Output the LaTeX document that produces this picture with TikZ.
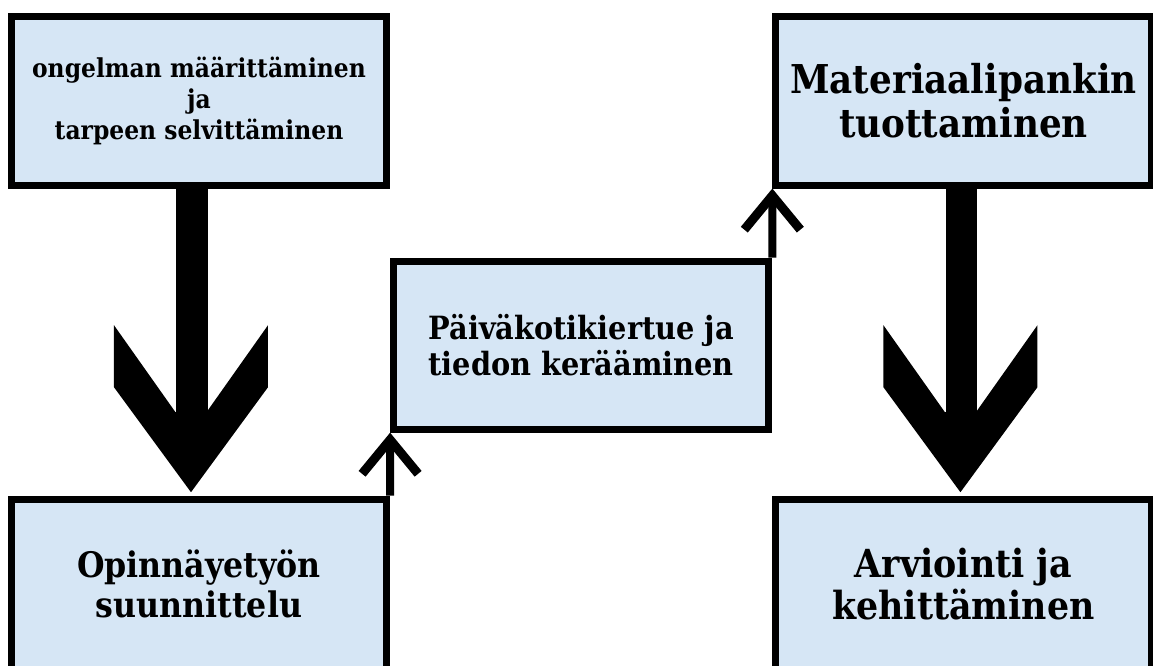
\documentclass[tikz,border=0pt]{standalone}
\usepackage{fontspec}
\setmainfont{DejaVu Serif}[FakeStretch=0.9]
\usetikzlibrary{positioning,arrows.meta}
\definecolor{boxblue}{RGB}{214,230,245}
% chevron head of the big arrows, tip at #1
\newcommand{\bighead}[1]{\fill (#1) -- ++(-77,-105) -- ++(0,-62) -- ++(61.5,87) -- ++(31,0) -- ++(61.5,-87) -- ++(0,62) -- cycle;}

\begin{document}
\begin{tikzpicture}[x=0.01cm, y=-0.01cm, node distance=4.83cm, on grid,
  phase/.style={draw, line width=0.7mm, fill=boxblue, minimum width=3.75cm, minimum height=1.68cm, align=center, inner sep=0pt},
  bigstem/.style={line width=3.1mm, shorten >=3mm},
  thinlink/.style={line width=0.8mm, -{Straight Barb[length=3.4mm,width=5.6mm,line width=0.9mm 0]}}]
   \clip (0,0) rectangle (1153,666);
   \node[phase, font=\bfseries\fontsize{7.4}{8.8}\selectfont] (problem) at (199,101) {ongelman määrittäminen\\ja\\tarpeen selvittäminen};
   \node[phase, minimum height=1.70cm, font=\bfseries\fontsize{10}{11.4}\selectfont] (plan) [below = of problem] {Opinnäyetyön\\suunnittelu};
   \node[phase, font=\bfseries\fontsize{9.1}{10}\selectfont] (tour) [above right = 2.39cm and 3.82cm of plan] {Päiväkotikiertue ja\\tiedon kerääminen};
   \node[phase, font=\bfseries\fontsize{11.3}{12.5}\selectfont] (bank) [above right = 2.44cm and 3.82cm of tour] {Materiaalipankin\\tuottaminen};
   \node[phase, minimum height=1.70cm, font=\bfseries\fontsize{11}{12}\selectfont] (eval) [below = of bank] {Arviointi ja\\kehittäminen};
   % big arrows
   \draw[bigstem] ([xshift=-0.07cm]problem.south) -- ([xshift=-0.07cm]plan.north);
   \bighead{[xshift=-0.08cm,yshift=0.035cm]plan.north}
   \draw[bigstem] ([xshift=-0.02cm]bank.south) -- ([xshift=-0.02cm]eval.north);
   \bighead{[xshift=-0.03cm,yshift=0.035cm]eval.north}
   % small arrows
   \draw[thinlink] (plan.north east) -- (tour.south west);
   \draw[thinlink] (tour.north east) -- (bank.south west);
\end{tikzpicture}
\end{document}
